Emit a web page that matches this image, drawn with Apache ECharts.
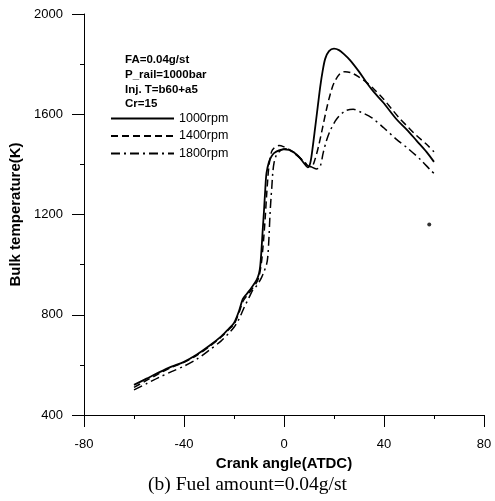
<!DOCTYPE html>
<html>
<head>
<meta charset="utf-8">
<script src="https://cdn.jsdelivr.net/npm/echarts@6/dist/echarts.min.js"></script>
<style>
html,body{margin:0;padding:0;background:#fff;}
#chart{width:495px;height:501px;}
</style>
</head>
<body>
<div id="chart"></div>
<script>
// ---- data ----
var xTicks = [-80, -40, 0, 40, 80];
var yTicks = [400, 800, 1200, 1600, 2000];
var seriesNames = ['1000rpm', '1400rpm', '1800rpm'];
var infoLines = ['FA=0.04g/st', 'P_rail=1000bar', 'Inj. T=b60+a5', 'Cr=15'];

var angle1000 = [-60,-55,-50,-45,-40,-35,-30,-25,-22,-20,-18,-16.5,-15,-13,-11,-10,-9.5,-9,-8.5,-8,-7.5,-7,-6,-5,-4,-2,0,2,4,6,8,9.5,10.5,11.5,12.5,13.5,14.5,15.5,16.5,18,20,22,24,26.4,30,33,36,39.7,45,49,53,57,60];
var temp1000  = [520,545,570,593,612,640,675,715,745,767,815,862,882,908,938,965,995,1060,1140,1215,1300,1365,1410,1432,1445,1456,1460,1458,1447,1430,1405,1388,1405,1470,1550,1630,1710,1775,1822,1852,1862,1856,1840,1816,1770,1727,1688,1647,1580,1540,1495,1450,1410];

var angle1400 = [-60,-55,-50,-45,-40,-35,-30,-25,-22,-20,-18,-16.5,-15,-13,-11,-10,-9,-8.5,-8,-7.5,-7,-6.5,-6,-5,-4,-2,0,2,4,6,8,10,11,12.4,14,15.5,17,18.5,20,22.4,24.4,27,30,33,36,39.7,43,46.4,50,53,57,60];
var temp1400  = [510,538,565,590,610,637,672,712,742,762,808,852,874,900,928,952,1010,1060,1120,1190,1270,1340,1395,1450,1465,1475,1470,1460,1448,1430,1410,1392,1390,1420,1480,1550,1620,1680,1725,1762,1770,1765,1748,1727,1700,1662,1622,1582,1545,1515,1480,1450];

var angle1800 = [-60,-55,-50,-45,-40,-35,-30,-25,-22,-20,-18,-16,-14,-12.4,-11,-10,-9,-8,-7,-6.5,-6,-5.6,-5.2,-4.9,-4.5,-4,-3,-1,1,3,5,7,9,11,13,14.4,15.7,17,18.4,21,24.4,27.7,31,35,40,45,50,55,59,60];
var temp1800  = [500,525,550,573,595,622,658,697,727,750,783,828,868,900,915,930,948,972,1000,1030,1110,1200,1265,1305,1365,1405,1438,1458,1462,1452,1437,1420,1402,1390,1382,1390,1447,1495,1533,1580,1613,1620,1607,1587,1545,1500,1460,1415,1373,1365];

var strayAngle = [58.1];
var strayTemp = [1160];

function pairs(xs, ys) { return xs.map(function (x, i) { return [x, ys[i]]; }); }

var FONT = '"Liberation Sans", Arial, sans-serif';
var chart = echarts.init(document.getElementById('chart'), null, {renderer: 'canvas'});

var lineTypes = ['solid', [7, 4], [9, 4, 2, 4]];
var lineWidths = [1.8, 1.5, 1.5];
var seriesData = [pairs(angle1000, temp1000), pairs(angle1400, temp1400), pairs(angle1800, temp1800)];

var series = seriesNames.map(function (n, i) {
  return {
    name: n, type: 'line', data: seriesData[i], symbol: 'none', smooth: 0.3,
    lineStyle: {color: '#000', width: lineWidths[i], type: lineTypes[i]},
    itemStyle: {color: '#000'}, animation: false
  };
});
series.push({
  name: 'stray', type: 'scatter', data: pairs(strayAngle, strayTemp),
  symbolSize: 4, itemStyle: {color: '#000'}, animation: false, silent: true
});

function plain(v) { return String(v); }

chart.setOption({
  animation: false,
  grid: {left: 84, right: 11, top: 14, bottom: 86, containLabel: false, outerBoundsMode: 'none'},
  xAxis: {
    type: 'value', min: xTicks[0], max: xTicks[xTicks.length - 1], interval: 40,
    name: 'Crank angle(ATDC)', nameLocation: 'middle', nameGap: 38,
    nameTextStyle: {fontFamily: FONT, fontWeight: 'bold', fontSize: 15, color: '#000'},
    axisLine: {show: true, onZero: false, lineStyle: {color: '#000', width: 1}},
    axisTick: {show: true, length: 12, lineStyle: {color: '#000'}},
    minorTick: {show: true, splitNumber: 2, length: 4, lineStyle: {color: '#000'}},
    axisLabel: {margin: 23, fontFamily: FONT, fontSize: 13, color: '#000', formatter: plain},
    splitLine: {show: false}
  },
  yAxis: {
    type: 'value', min: yTicks[0], max: yTicks[yTicks.length - 1], interval: 400,
    name: 'Bulk temperature(K)', nameLocation: 'middle', nameGap: 55,
    nameTextStyle: {fontFamily: FONT, fontWeight: 'bold', fontSize: 15, color: '#000'},
    axisLine: {show: true, onZero: false, lineStyle: {color: '#000', width: 1}},
    axisTick: {show: true, length: 12, lineStyle: {color: '#000'}},
    minorTick: {show: true, splitNumber: 2, length: 4, lineStyle: {color: '#000'}},
    axisLabel: {margin: 21, fontFamily: FONT, fontSize: 13, color: '#000', formatter: plain},
    splitLine: {show: false}
  },
  legend: {
    data: seriesNames, orient: 'vertical', left: 110, top: 112,
    itemWidth: 63, itemHeight: 14, itemGap: 4.5, padding: 0,
    textStyle: {fontFamily: FONT, fontSize: 12.5, color: '#000'},
    itemStyle: {opacity: 0}
  },
  graphic: infoLines.map(function (t, i) {
    return {
      type: 'text', left: 125, top: 54 + i * 14.7,
      style: {text: t, fontFamily: FONT, fontWeight: 'bold', fontSize: 11.5, fill: '#000'}
    };
  }).concat([{
    type: 'text', left: 'center', top: 475,
    style: {text: '(b) Fuel amount=0.04g/st', fontFamily: '"Liberation Serif", "Times New Roman", serif', fontSize: 19.5, fill: '#000'}
  }]),
  series: series
});
</script>
</body>
</html>
